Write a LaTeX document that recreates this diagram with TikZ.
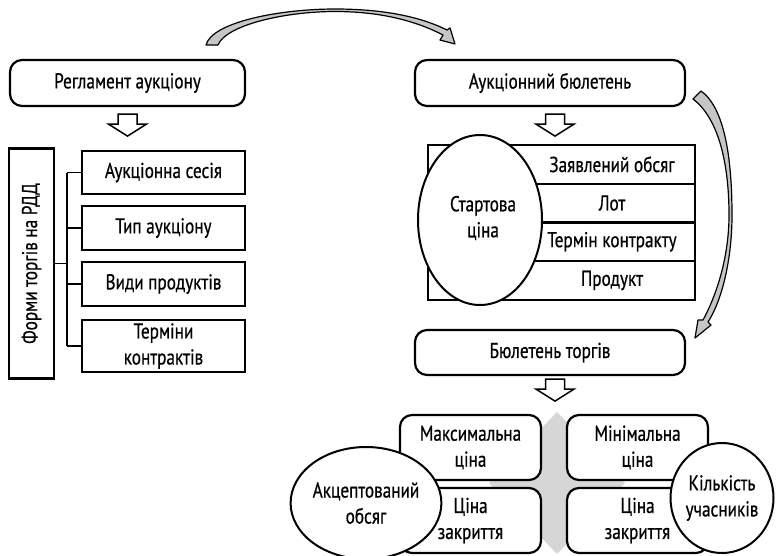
\documentclass[tikz,border=0pt]{standalone}
\usepackage{fontspec}
\setmainfont[FakeStretch=0.8, FakeBold=0.6]{PT Sans}
\usetikzlibrary{calc,shapes.geometric}

\tikzset{
  txt/.style={font=\fontsize{21.5}{26}\selectfont, align=center, inner sep=0pt},
  rbox/.style={txt, draw, line width=2.2pt, rounded corners=12pt, fill=white},
  sbox/.style={txt, draw, line width=2.2pt, fill=white},
  rowbox/.style={sbox, outer sep=0pt, minimum width=267, minimum height=38.7, anchor=north west},
  oval/.style={txt, draw, ellipse, line width=2pt, fill=white},
  link/.style={line width=1.6pt},
  swoosh/.style={draw=black, line width=1.2pt, fill=gray!45, line join=round},
  downarr/.pic={
    \draw[fill=white, line width=1.5pt, line join=miter]
      (-9.5,0) -- (9.5,0) -- (9.5,10) -- (19,10) -- (0,22) -- (-19,10) -- (-9.5,10) -- cycle;
  }
}

\begin{document}
\begin{tikzpicture}[x=1pt, y=-1pt]
\useasboundingbox (0,0) rectangle (776,555);

% ---------- left branch: auction rules ----------
\node[rbox, minimum width=235, minimum height=46] (reg) at (127.5,83) {Регламент аукціону};
\pic at ($(reg.south)+(0,7)$) {downarr};

\node[sbox, rotate=90, minimum width=230, minimum height=45] (forms) at (31.5,263.5) {Форми торгів на РДД};

\node[sbox, minimum width=163, minimum height=43] (f1) at (163.5,172.5) {Аукціонна сесія};
\node[sbox, minimum width=163, minimum height=44] (f2) at (163.5,228) {Тип аукціону};
\node[sbox, minimum width=163, minimum height=44] (f3) at (163.5,284) {Види продуктів};
\node[sbox, minimum width=163, minimum height=52] (f4) at (163.5,346) {Терміни\\контрактів};

\coordinate (trunk) at (67,0);
\draw[link] (forms.south) -- (forms.south -| trunk);
\draw[link] (f1.west -| trunk) -- (f4.west -| trunk);
\foreach \b in {f1,f2,f3,f4}{
  \draw[link] (\b.west -| trunk) -- (\b.west);
}

% ---------- right branch: auction bulletin ----------
\node[rbox, minimum width=270, minimum height=46] (ab) at (550,83) {Аукціонний бюлетень};
\pic at ($(ab.south)+(5,7)$) {downarr};

\node[rowbox] (r1) at (428,145) {};
\node[rowbox] (r2) at (r1.south west) {};
\node[rowbox] (r3) at (r2.south west) {};
\node[rowbox] (r4) at (r3.south west) {};
\node[txt] (t1) at (r1.center -| 612,0) {Заявлений обсяг};
\node[txt] (t2) at (r2.center -| 612,0) {Лот};
\node[txt] (t3) at (r3.center -| 612,0) {Термін контракту};
\node[txt] (t4) at (r4.center -| 612,0) {Продукт};

\node[oval, minimum width=124, minimum height=170, inner sep=0pt] (start) at (480,220) {};
\node[txt] (startt) at (483,218) {Стартова\\ціна};

\node[rbox, minimum width=270, minimum height=45] (bt) at (550,352.5) {Бюлетень торгів};
\pic at ($(bt.south)+(5,3)$) {downarr};

% ---------- trading bulletin details ----------
\fill[gray!32] (557,412) -- (625,483) -- (557,554) -- (489,483) -- cycle;

\node[rbox, minimum width=141, minimum height=65] (maxp) at (470.5,447.5) {Максимальна\\ціна};
\node[rbox, minimum width=141, minimum height=65] (minp) at (637.5,447.5) {Мінімальна\\ціна};
\node[rbox, minimum width=141, minimum height=65] (cl1) at (470.5,520.5) {Ціна\\закриття};
\node[rbox, minimum width=141, minimum height=65] (cl2) at (637.5,520.5) {Ціна\\закриття};

\node[oval, minimum width=128, minimum height=112] (acc) at (366,503) {Акцептований\\обсяг};
\node[oval, minimum width=100, minimum height=110] (cnt) at (722,498) {Кількість\\учасників};

% ---------- curved arrows between stages ----------
\path[swoosh]
  (206,45) .. controls (212,22) and (280,9) .. (335,9)
  .. controls (390,9) and (425,19) .. (447,30)
  -- (450,28) -- (455,44) -- (440,40) -- (443,35)
  .. controls (420,23) and (385,11.5) .. (335,11.5)
  .. controls (285,11.5) and (226,25) .. (218,45) -- cycle;

\path[swoosh]
  (701,91) .. controls (725,108) and (732,160) .. (732,215)
  .. controls (732,262) and (721,302) .. (708,322)
  -- (711,325) -- (695,338) -- (698,320) -- (703,320)
  .. controls (715,298) and (729,260) .. (729,215)
  .. controls (729,162) and (718,118) .. (693,99) -- cycle;

\end{tikzpicture}
\end{document}
